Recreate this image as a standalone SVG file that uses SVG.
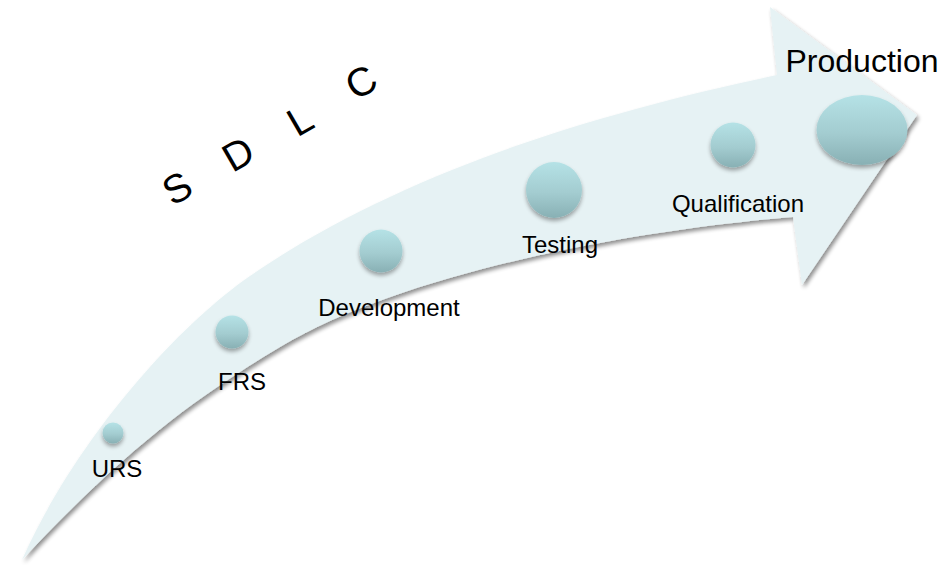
<svg xmlns="http://www.w3.org/2000/svg" width="948" height="570" viewBox="0 0 948 570">
  <style>
    .lbl { font-family: "Liberation Sans", Arial, sans-serif; font-size: 24px; fill: #000; text-anchor: middle; }
    .big { font-size: 32px; }
    .sdlc { font-family: "Liberation Sans", Arial, sans-serif; font-size: 40px; fill: #000; text-anchor: middle; }
    .ball { fill: url(#ballGrad); filter: url(#ballShadow); }
  </style>
  <defs>
    <linearGradient id="ballGrad" x1="0" y1="0" x2="0" y2="1">
      <stop offset="0" stop-color="#b5e2e6"/>
      <stop offset="0.55" stop-color="#a3ccd0"/>
      <stop offset="1" stop-color="#88b0b4"/>
    </linearGradient>
    <filter id="arrowShadow" x="-5%" y="-5%" width="115%" height="115%">
      <feGaussianBlur in="SourceAlpha" stdDeviation="2"/>
      <feOffset dx="2" dy="3" result="b"/>
      <feComponentTransfer><feFuncA type="linear" slope="0.45"/></feComponentTransfer>
      <feMerge><feMergeNode/><feMergeNode in="SourceGraphic"/></feMerge>
    </filter>
    <filter id="ballShadow" x="-30%" y="-30%" width="160%" height="170%">
      <feGaussianBlur in="SourceAlpha" stdDeviation="2"/>
      <feOffset dx="0" dy="3" result="b"/>
      <feComponentTransfer><feFuncA type="linear" slope="0.35"/></feComponentTransfer>
      <feMerge><feMergeNode/><feMergeNode in="SourceGraphic"/></feMerge>
    </filter>
  </defs>

  <g id="connectors">
    <path id="arrow" filter="url(#arrowShadow)" fill="#e6f2f4"
      d="M22,560 C75,441 176,327 250,276 C406,168 611,110 777,75 L770,7 L917,115 L802,285 L793,217 C643,229 409,270 280,347 C203,393 131,443 22,560 Z"/>
  </g>

  <g id="title">
    <text class="sdlc" transform="translate(177,188) rotate(-30)" y="14">S</text>
    <text class="sdlc" transform="translate(238,154) rotate(-30)" y="14">D</text>
    <text class="sdlc" transform="translate(300,120) rotate(-30)" y="14">L</text>
    <text class="sdlc" transform="translate(361,82) rotate(-30)" y="14">C</text>
  </g>

  <g id="urs">
    <circle class="ball" cx="113" cy="433" r="10.5"/>
    <text class="lbl" x="117" y="477">URS</text>
  </g>
  <g id="frs">
    <circle class="ball" cx="232" cy="332" r="16.5"/>
    <text class="lbl" x="242" y="390">FRS</text>
  </g>
  <g id="development">
    <circle class="ball" cx="381" cy="251" r="21.5"/>
    <text class="lbl" x="389" y="316">Development</text>
  </g>
  <g id="testing">
    <circle class="ball" cx="554" cy="190" r="28"/>
    <text class="lbl" x="560" y="253">Testing</text>
  </g>
  <g id="qualification">
    <circle class="ball" cx="733" cy="145" r="22.5"/>
    <text class="lbl" x="738" y="212">Qualification</text>
  </g>
  <g id="production">
    <ellipse class="ball" cx="862" cy="130" rx="45.5" ry="35"/>
    <text class="lbl big" x="862" y="72">Production</text>
  </g>
</svg>
